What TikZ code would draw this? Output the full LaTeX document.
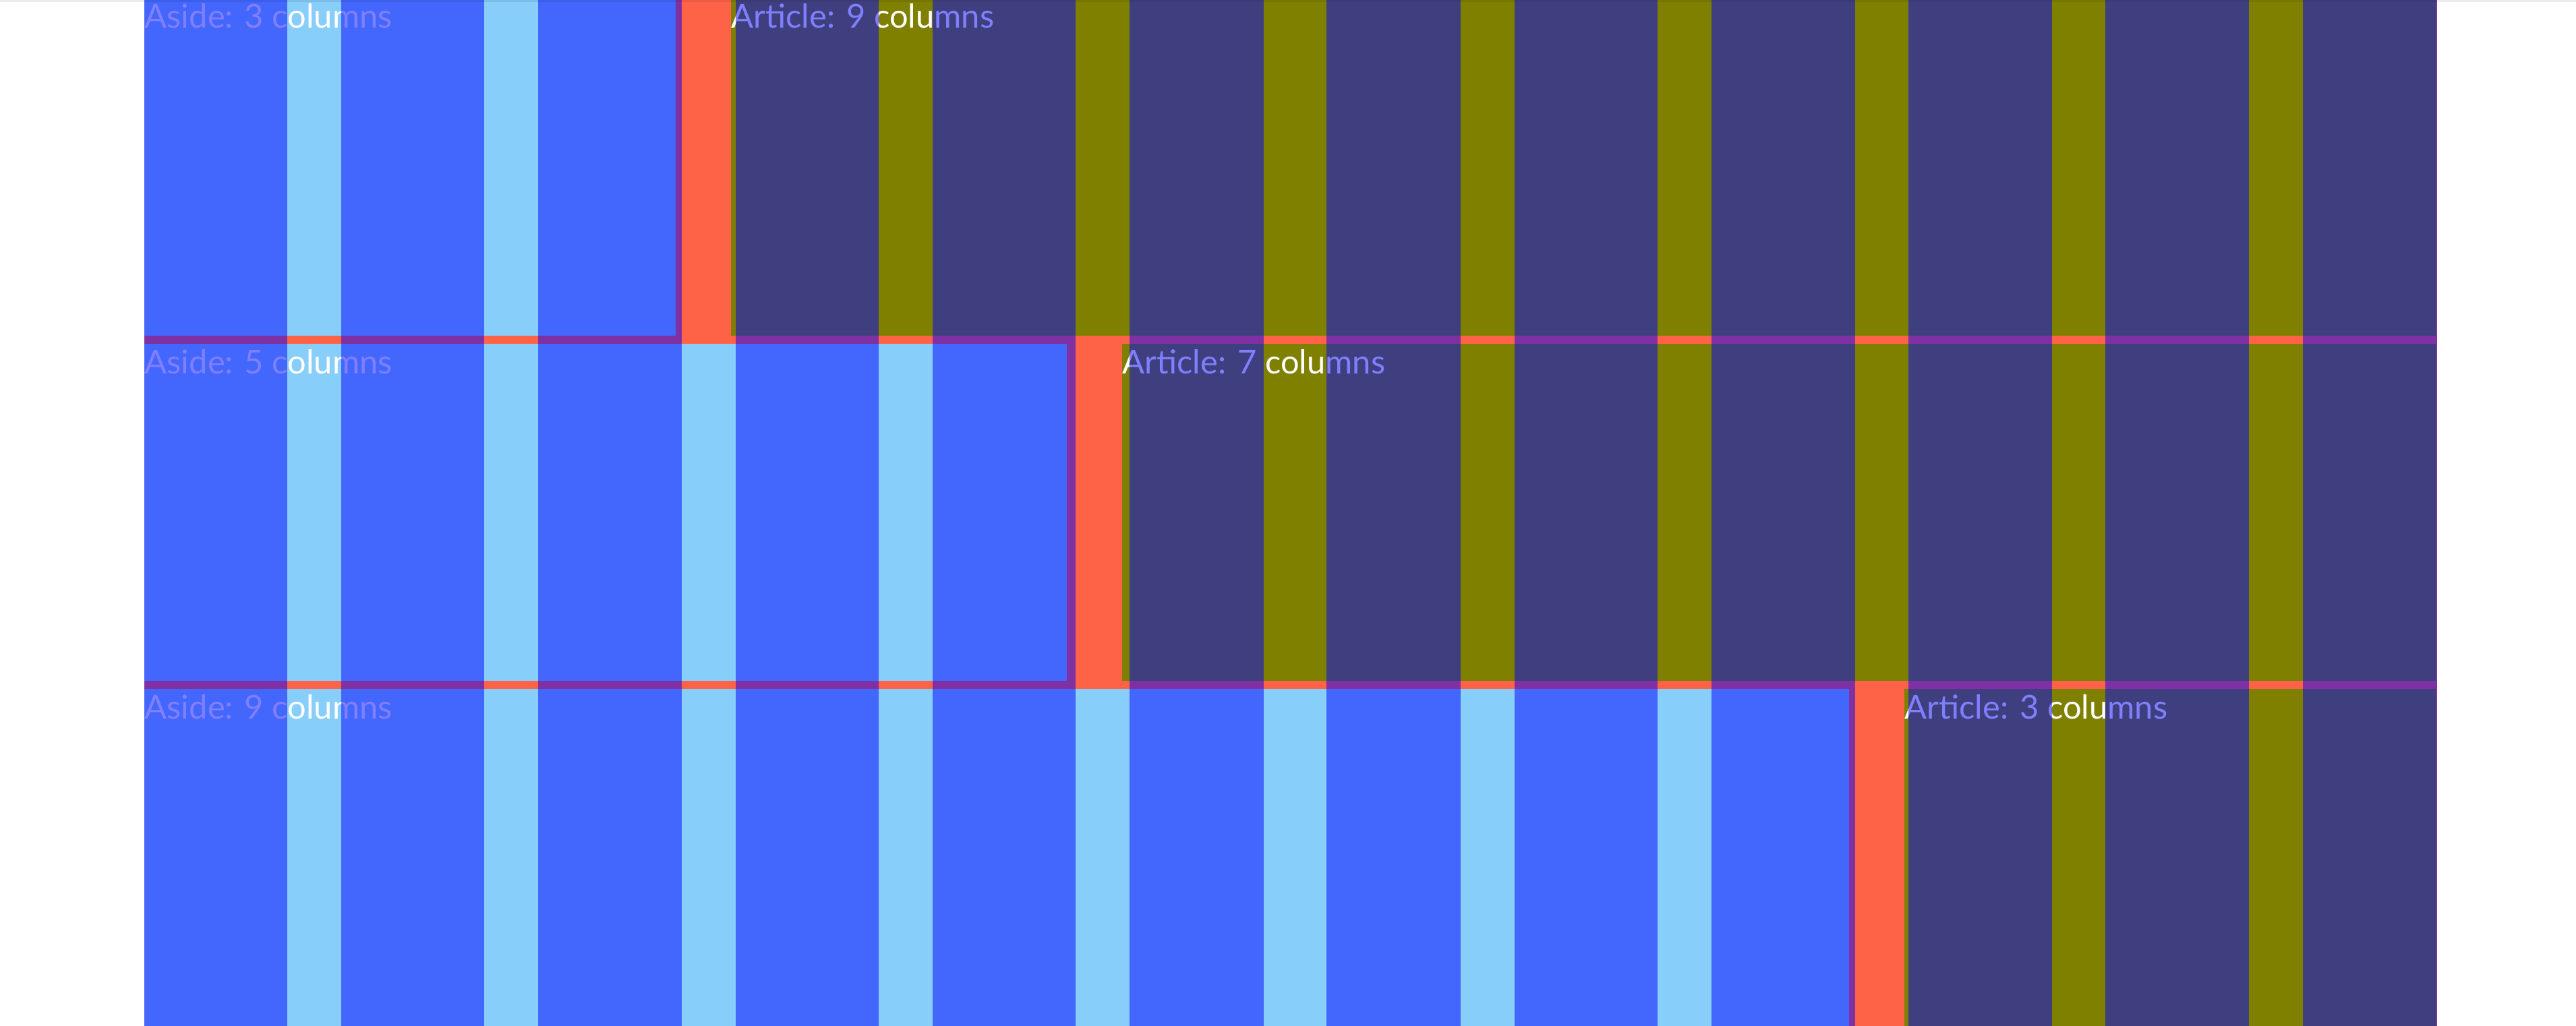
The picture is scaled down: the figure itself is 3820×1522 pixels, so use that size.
\documentclass[tikz,border=0pt]{standalone}
\usepackage{fontspec}
\setmainfont{Lato}
\definecolor{tomatoc}{RGB}{255,99,71}
\definecolor{skyc}{RGB}{135,206,250}
\definecolor{olivec}{RGB}{128,128,0}
\begin{document}
\begin{tikzpicture}[x=0.01cm,y=-0.01cm,
  track/.style={fill=blue, fill opacity=0.5, draw=none},
  asidebox/.style={fill=skyc, draw=none},
  articlebox/.style={fill=olivec, draw=none},
  lbl/.style={anchor=base west, inner sep=0pt, text=white, font=\fontsize{13.9pt}{16pt}\selectfont}]
\useasboundingbox (0,0) rectangle (3820,1522);
\fill[white] (0,0) rectangle (3820,1522);
% grid container
\fill[tomatoc] (214,0) rectangle (3614,1522);
% row boxes
\fill[asidebox] (214,0) rectangle (1002,498);
\fill[articlebox] (1084,0) rectangle (3612,498);
\fill[asidebox] (214,510) rectangle (1582,1010);
\fill[articlebox] (1664,510) rectangle (3612,1010);
\fill[asidebox] (214,1022) rectangle (2742,1522);
\fill[articlebox] (2824,1022) rectangle (3612,1522);
% labels
\node[lbl] (a1) at (214,42) {Aside: 3 columns};
\node[lbl] (b1) at (1084,42) {Article: 9 columns};
\node[lbl] (a2) at (214,555) {Aside: 5 columns};
\node[lbl] (b2) at (1664,555) {Article: 7 columns};
\node[lbl] (a3) at (214,1067) {Aside: 9 columns};
\node[lbl] (b3) at (2824,1067) {Article: 3 columns};
% column overlay
\foreach \xa/\xb in {214/426,506/718,798/1011,1091/1303,1383/1595,1675/1874,1967/2166,2246/2458,2538/2751,2830/3043,3122/3335,3415/3614}
  \fill[track] (\xa,0) rectangle (\xb,1522);
% top edge line
\fill[black, fill opacity=0.08] (0,0) rectangle (3820,3);
\end{tikzpicture}
\end{document}
